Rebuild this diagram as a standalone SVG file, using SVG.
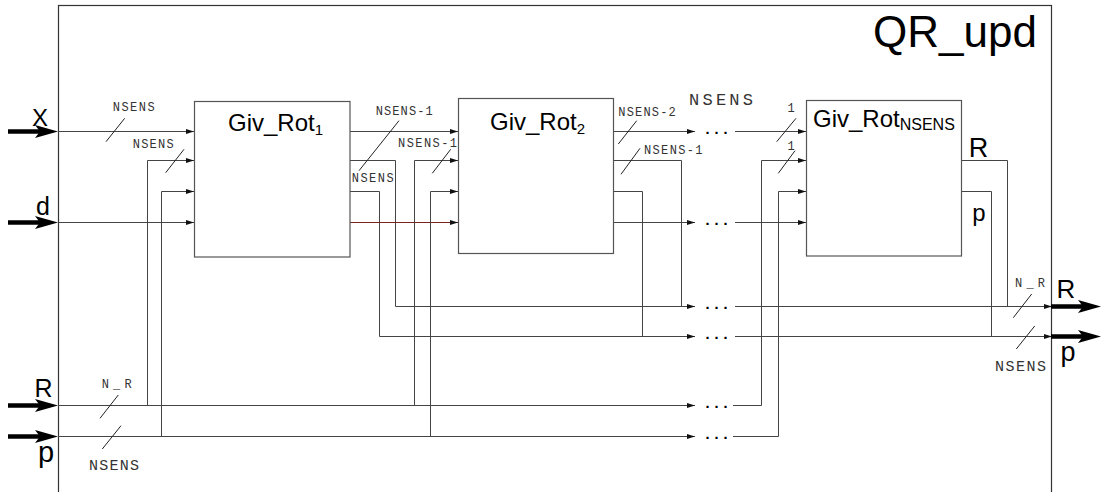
<svg xmlns="http://www.w3.org/2000/svg" width="1101" height="492" viewBox="0 0 1101 492">
<style>
.blk{fill:#fff;stroke:#555;stroke-width:1.2}
.ttl{font-family:"Liberation Sans",Arial,sans-serif;font-size:24px;fill:#000}
.big{font-family:"Liberation Sans",Arial,sans-serif;fill:#000}
.sm{font-family:"Liberation Mono","Courier New",monospace;font-size:12px;fill:#333}
.md{font-family:"Liberation Mono","Courier New",monospace;font-size:15px;fill:#333}
.lg{font-family:"Liberation Mono","Courier New",monospace;font-size:17px;fill:#333}
.dots{font-family:"Liberation Mono","Courier New",monospace;font-size:15px;font-weight:bold;fill:#000}
.w{fill:none;stroke:#444;stroke-width:1}
.wa{fill:none;stroke:#444;stroke-width:1;marker-end:url(#ah)}
.red{fill:none;stroke:#7a2222;stroke-width:1;marker-end:url(#ah)}
.sl{stroke:#222;stroke-width:1}
</style>
<defs>
<marker id="ah" markerUnits="userSpaceOnUse" markerWidth="9" markerHeight="6" refX="8" refY="2.5" orient="auto">
<path d="M0,0 L8,2.5 L0,5 Z" fill="#111"/>
</marker>
<g id="bigArrow">
<line x1="0" y1="0" x2="36" y2="0" stroke="#000" stroke-width="4.5"/>
<path d="M50,0 L27,-6.5 L32,0 L27,6.5 Z" fill="#000"/>
</g>
</defs>

<rect id="outer" x="58.5" y="5.5" width="993" height="500" fill="#fff" stroke="#333" stroke-width="1.2"/>
<text class="big" x="1037" y="47" font-size="44" text-anchor="end">QR_upd</text>

<g id="connectors">
<path class="wa" d="M58,131.5 H194"/>
<path class="wa" d="M147.5,405.5 V160.5 H194"/>
<path class="wa" d="M161.5,436.5 V191.5 H194"/>
<path class="wa" d="M58,222.5 H194"/>
<path class="wa" d="M350,131.5 H458"/>
<path class="wa" d="M350,160.5 H395.5 V306.5 H695"/>
<path class="wa" d="M350,191.5 H379.5 V336.5 H695"/>
<path class="red" d="M350,222.5 H458"/>
<path class="wa" d="M414.5,405.5 V160.5 H458"/>
<path class="wa" d="M430.5,436.5 V191.5 H458"/>
<path class="wa" d="M58,405.5 H695"/>
<path class="wa" d="M58,436.5 H695"/>
<path class="wa" d="M613,131.5 H695"/>
<path class="w" d="M613,160.5 H681.5 V306.5"/>
<path class="w" d="M613,191.5 H642.5 V336.5"/>
<path class="wa" d="M613,222.5 H695"/>
<path class="wa" d="M735,131.5 H806"/>
<path class="wa" d="M735,222.5 H806"/>
<path class="wa" d="M735,306.5 H1052"/>
<path class="wa" d="M735,336.5 H1052"/>
<path class="wa" d="M733,405.5 H761.5 V160.5 H806"/>
<path class="wa" d="M733,436.5 H778.5 V191.5 H806"/>
<path class="w" d="M961,160.5 H1007.5 V306.5"/>
<path class="w" d="M961,191.5 H991.5 V336.5"/>
<line class="sl" x1="106" y1="141.7" x2="124.7" y2="118.3"/>
<line class="sl" x1="165.7" y1="172.7" x2="184" y2="149.3"/>
<line class="sl" x1="359" y1="170.7" x2="399" y2="120.7"/>
<line class="sl" x1="432.3" y1="173.3" x2="450.7" y2="149.3"/>
<line class="sl" x1="618.3" y1="144" x2="636.7" y2="120.7"/>
<line class="sl" x1="621" y1="174.3" x2="640" y2="148.3"/>
<line class="sl" x1="776.7" y1="141.7" x2="796" y2="118.3"/>
<line class="sl" x1="778.3" y1="173.3" x2="795" y2="150.7"/>
<line class="sl" x1="100" y1="418.3" x2="118.3" y2="395"/>
<line class="sl" x1="102.3" y1="449" x2="121" y2="425.7"/>
<line class="sl" x1="1013.3" y1="317.7" x2="1031.7" y2="294"/>
<line class="sl" x1="1016.3" y1="349" x2="1034.7" y2="326"/>
<use href="#bigArrow" transform="translate(8,131.5)"/>
<use href="#bigArrow" transform="translate(8,222.5)"/>
<use href="#bigArrow" transform="translate(8,405.5)"/>
<use href="#bigArrow" transform="translate(8,436.5)"/>
<use href="#bigArrow" transform="translate(1051,306.5)"/>
<use href="#bigArrow" transform="translate(1051,336.5)"/>
</g>

<g id="dots">
<text class="dots" x="703" y="133.5">...</text>
<text class="dots" x="703" y="224.5">...</text>
<text class="dots" x="703" y="308.5">...</text>
<text class="dots" x="703" y="338.5">...</text>
<text class="dots" x="703" y="407.5">...</text>
<text class="dots" x="703" y="438.5">...</text>
</g>

<g id="labels">
<text class="sm" x="112.7" y="110.7" textLength="42" lengthAdjust="spacing">NSENS</text>
<text class="sm" x="132.7" y="147.7" textLength="41" lengthAdjust="spacing">NSENS</text>
<text class="sm" x="375.7" y="115" textLength="57" lengthAdjust="spacing">NSENS-1</text>
<text class="sm" x="351.7" y="182.3" textLength="42" lengthAdjust="spacing">NSENS</text>
<text class="sm" x="398" y="147.3" textLength="59" lengthAdjust="spacing">NSENS-1</text>
<text class="sm" x="618.3" y="116" textLength="57.5" lengthAdjust="spacing">NSENS-2</text>
<text class="sm" x="644" y="154" textLength="58.5" lengthAdjust="spacing">NSENS-1</text>
<text class="lg" x="689" y="105" textLength="64" lengthAdjust="spacing">NSENS</text>
<text class="sm" x="787.5" y="112.3">1</text>
<text class="sm" x="787.5" y="150">1</text>
<text class="sm" x="101.7" y="388.3" textLength="30" lengthAdjust="spacing">N_R</text>
<text class="md" x="89" y="470" textLength="50" lengthAdjust="spacing">NSENS</text>
<text class="sm" x="1015" y="286.7" textLength="30" lengthAdjust="spacing">N_R</text>
<text class="md" x="995" y="370.7" textLength="51" lengthAdjust="spacing">NSENS</text>
<text class="big" x="40" y="125.7" font-size="24" text-anchor="middle">X</text>
<text class="big" x="43" y="215" font-size="25" text-anchor="middle">d</text>
<text class="big" x="43.5" y="396.7" font-size="25" text-anchor="middle">R</text>
<text class="big" x="46" y="462" font-size="29" text-anchor="middle">p</text>
<text class="big" x="1066" y="298.3" font-size="26" text-anchor="middle">R</text>
<text class="big" x="1068" y="361" font-size="27" text-anchor="middle">p</text>
</g>

<g id="giv_rot_1">
<rect class="blk" x="194.5" y="101.5" width="155.5" height="155.5"/>
<text class="ttl" x="228" y="131">Giv_Rot<tspan font-size="15" dy="3.6">1</tspan></text>
</g>
<g id="giv_rot_2">
<rect class="blk" x="458.5" y="98.5" width="155" height="155"/>
<text class="ttl" x="490" y="130">Giv_Rot<tspan font-size="15" dy="3.6">2</tspan></text>
</g>
<g id="giv_rot_nsens">
<rect class="blk" x="806.5" y="100.5" width="155" height="155.5"/>
<text class="ttl" x="813" y="127.3">Giv_Rot<tspan font-size="16" dy="3">NSENS</tspan></text>
<text class="big" x="978.5" y="157.3" font-size="27" text-anchor="middle">R</text>
<text class="big" x="979" y="220.8" font-size="24" text-anchor="middle">p</text>
</g>
</svg>
